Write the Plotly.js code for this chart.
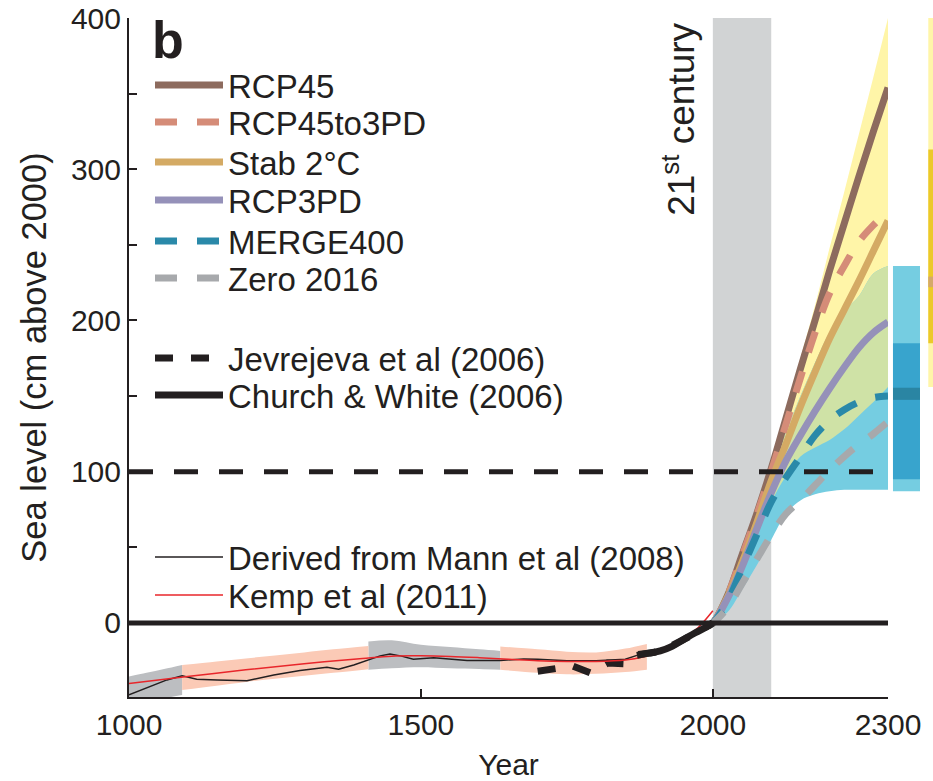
<!DOCTYPE html>
<html>
<head>
<meta charset="utf-8">
<script src="https://cdn.plot.ly/plotly-3.0.1.min.js"></script>
<style>html,body{margin:0;padding:0;background:#fff;}#chart{width:933px;height:781px;}</style>
</head>
<body>
<div id="chart"></div>
<script>
// ---------------- data ----------------
// Historical reconstructions
const mannYears = [1000,1036,1065,1091,1116,1151,1202,1248,1293,1339,1359,1385,1410,1430,1447,1465,1487,1522,1579,1636,1676,1700,1750,1800,1850,1870];
const mannValues = [-47.6,-42.1,-37.7,-35.0,-37.2,-37.7,-38.3,-34.4,-31.5,-29.3,-30.6,-27.8,-24.5,-21.8,-20.5,-21.8,-24.0,-23.1,-24.9,-24.9,-23.8,-24.0,-25.0,-25.0,-24.0,-21.5];

const kempYears = [1000,1100,1200,1300,1400,1450,1500,1550,1600,1650,1700,1750,1800,1850,1880,1900,1925,1950,1975,2000];
const kempValues = [-40,-35.5,-31,-27,-23.5,-22,-21.8,-22.2,-23,-24,-25,-25.5,-25.5,-24.5,-22.5,-20,-16,-10,-3,8];

// uncertainty shading of the reconstructions (segments)
const grayBandAYears = [1000,1030,1060,1091];
const grayBandAUpper = [-35.5,-33,-30.5,-27.8];
const grayBandALower = [-56,-53,-50,-47.6];
const grayBandBYears = [1410,1450,1500,1550,1600,1636];
const grayBandBUpper = [-12.3,-11.5,-14.5,-16,-17.5,-18.5];
const grayBandBLower = [-31,-30,-29.3,-30,-30.5,-31];
const pinkBandAYears = [1091,1150,1200,1250,1300,1350,1410];
const pinkBandAUpper = [-27.8,-25.5,-23.5,-21.5,-19.5,-17.5,-15.2];
const pinkBandALower = [-44.3,-41.5,-39,-37,-35,-33,-30.6];
const pinkBandBYears = [1636,1700,1750,1800,1850,1887];
const pinkBandBUpper = [-15.6,-17.5,-19,-19.5,-17,-13.9];
const pinkBandBLower = [-31,-33,-34,-33.7,-32.5,-31];

const jevYears = [1700,1730,1760,1790,1820,1850,1870,1900,1930,1960,1990,2000];
const jevValues = [-32,-30,-28.5,-33,-26.5,-27,-21,-19.5,-15,-9,-2,0];

const cwYears = [1870,1890,1910,1930,1950,1970,1990,2000];
const cwValues = [-21.5,-20,-18.5,-15.5,-11,-6.5,-2.5,0];

// Projections
const projYears = [1990,2000,2025,2050,2075,2100,2125,2150,2175,2200,2225,2250,2275,2300];
const rcp45 =       [-2,0,18,45,72,102,135,168,200,233,264,295,325,354];
const rcp45to3pd =  [-2,0,18,44,71,100,131,162,192,218,236,252,263,272];
const stab2c =      [-2,0,17,40,66,94,118,143,166,188,207,226,246,266];
const rcp3pd =      [-2,0,16,37,62,86,107,124,140,155,169,182,192,199];
const merge400 =    [-2,0,14,36,58,80,96,110,124,134,141,146,149,150];
const zero2016 =    [-2,0,10,26,42,58,72,81,91,101,110,118,125,133];

// Uncertainty envelopes of the projections
const bandYears   = [2000,2025,2050,2075,2100,2125,2150,2175,2200,2225,2250,2275,2300];
const yellowUpper = [0,20,45,75,108,140,175,210,248,285,323,361,400];
const yellowLower = [0,16,35,58,80,97,110,116,121,128,137,146,156];
const blueUpper   = [0,20,45,72,100,126,150,172,192,206,216,231,236];
const blueLower   = [0,7,22,38,55,72,81,85,87,88,88,88,88];

// Ranges at 2300 (side bars): [low, high]
const barLightLow  = [87,156];
const barLightHigh = [236,400];
const barDarkLow   = [95,185];
const barDarkHigh  = [185,313];
const barMarkLow   = [147.5,222];
const barMarkHigh  = [155.5,229];

// Reference levels
const refYears = [1000,2300];
const refZero = [0,0];
const refHundred = [100,100];
const century = [2000,2100];

const xTicks = [1000,1500,2000,2300];
const yTicks = [0,100,200,300,400];

// ---------------- styling ----------------
const FONT = 'Liberation Sans, Arial, Helvetica, sans-serif';
const INK = '#231f20';
const C = {
  rcp45:'#8d6b5e', rcp45to3pd:'#d58c78', stab:'#d4aa64', rcp3pd:'#9591b9', merge:'#2a89a9', zero:'#a7a9ac',
  yellow:'#fff5a8', cyan:'#75cde1', green:'#cfe2a6', gray:'#bcbec1', pink:'#fbcab6', century:'#d1d3d4',
  barLightB:'#75cde1', barLightY:'#fff5a8', barDarkB:'#38a4cd', barDarkY:'#ecc92a', markB:'#2a85a3', markY:'#d5a96a'
};

const plotL = 129, plotR = 933, plotT = 18, plotB = 697, xEnd = 888;
const plotW = plotR - plotL, plotH = plotB - plotT;
const xDomEnd = (xEnd - plotL) / plotW;
const x2DomStart = (890 - plotL) / plotW;

// legend rows (pixel centre of each swatch)
const legendRowY = [88, 125, 165, 203, 244, 281, 361, 398, 560, 598];
const legendNames = legendRowY.map((_, i) => i === 0 ? 'legend' : 'legend' + (i + 1));

const traces = [];
function band(xs, lo, hi, color) {
  traces.push({x:xs, y:lo, type:'scatter', mode:'lines', line:{width:0, shape:'spline'}, showlegend:false, hoverinfo:'skip'});
  traces.push({x:xs, y:hi, type:'scatter', mode:'lines', line:{width:0, shape:'spline'}, fill:'tonexty', fillcolor:color, showlegend:false, hoverinfo:'skip'});
}
// projection envelopes
band(bandYears, yellowLower, yellowUpper, C.yellow);
band(bandYears, blueLower, blueUpper, C.cyan);
const ovLo = bandYears.map((_, i) => Math.max(yellowLower[i], blueLower[i]));
const ovHi = bandYears.map((_, i) => Math.min(yellowUpper[i], blueUpper[i]));
band(bandYears, ovLo, ovHi, C.green);
// reconstruction envelopes
band(grayBandAYears, grayBandALower, grayBandAUpper, C.gray);
band(grayBandBYears, grayBandBLower, grayBandBUpper, C.gray);
band(pinkBandAYears, pinkBandALower, pinkBandAUpper, C.pink);
band(pinkBandBYears, pinkBandBLower, pinkBandBUpper, C.pink);

let li = 0;
function proj(name, ys, color, dash) {
  traces.push({x:projYears, y:ys, name:name, type:'scatter', mode:'lines',
    line:{color:color, width:7, dash:dash || 'solid', shape:'spline'}, legend:legendNames[li++]});
}
proj('RCP45', rcp45, C.rcp45);
proj('RCP45to3PD', rcp45to3pd, C.rcp45to3pd, '22px,20px');
proj('Stab 2\u00B0C', stab2c, C.stab);
proj('RCP3PD', rcp3pd, C.rcp3pd);
proj('MERGE400', merge400, C.merge, '22px,20px');
proj('Zero 2016', zero2016, C.zero, '22px,20px');

// reconstructions
traces.push({x:jevYears, y:jevValues, name:'Jevrejeva et al (2006)', type:'scatter', mode:'lines',
  line:{color:INK, width:7, dash:'18px,18px'}, legend:legendNames[li++]});
traces.push({x:cwYears, y:cwValues, name:'Church & White (2006)', type:'scatter', mode:'lines',
  line:{color:INK, width:7, shape:'spline'}, legend:legendNames[li++]});
traces.push({x:mannYears, y:mannValues, name:'Derived from Mann et al (2008)', type:'scatter', mode:'lines',
  line:{color:INK, width:1.5}, legend:legendNames[li++]});
traces.push({x:kempYears, y:kempValues, name:'Kemp et al (2011)', type:'scatter', mode:'lines',
  line:{color:'#e8262b', width:1.5, shape:'spline'}, legend:legendNames[li++]});
// keep Church & White drawn above the thin reconstructions
const cwTrace = traces.splice(traces.length - 3, 1)[0];
traces.push(cwTrace);

// reference levels
traces.push({x:refYears, y:refHundred, type:'scatter', mode:'lines', line:{color:INK, width:5, dash:'24px,21px'}, showlegend:false, hoverinfo:'skip'});
traces.push({x:refYears, y:refZero, type:'scatter', mode:'lines', line:{color:INK, width:5}, showlegend:false, hoverinfo:'skip'});

// side bars (ranges in 2300)
const barPos = [0,1];
const barW = 0.765;
function rangeBar(lo, hi, colors) {
  traces.push({type:'bar', x:barPos, base:lo, y:hi.map((h,i)=>h-lo[i]), width:[barW,barW],
    marker:{color:colors, line:{width:0}}, xaxis:'x2', yaxis:'y', showlegend:false, hoverinfo:'skip'});
}
rangeBar(barLightLow, barLightHigh, [C.barLightB, C.barLightY]);
rangeBar(barDarkLow, barDarkHigh, [C.barDarkB, C.barDarkY]);
rangeBar(barMarkLow, barMarkHigh, [C.markB, C.markY]);

const legendFont = 33, legendTopOffset = 31;
const layout = {
  width:933, height:781,
  margin:{l:plotL, r:0, t:plotT, b:781 - plotB, pad:0},
  paper_bgcolor:'#fff', plot_bgcolor:'rgba(0,0,0,0)',
  font:{family:FONT, color:INK, size:30},
  showlegend:true,
  barmode:'overlay',
  xaxis:{domain:[0, xDomEnd], range:[1000,2300], showline:true, linecolor:INK, linewidth:2,
    ticks:'inside', ticklen:8, tickwidth:2, tickcolor:INK, tickvals:xTicks, ticktext:xTicks.map(String),
    tickfont:{family:FONT, size:30, color:INK}, showgrid:false, zeroline:false,
    title:{text:'Year', font:{family:FONT, size:30, color:INK}, standoff:16}},
  xaxis2:{domain:[x2DomStart,1], range:[-0.467,0.751], anchor:'y', visible:false, showgrid:false, zeroline:false},
  yaxis:{range:[-49,400], anchor:'x', showline:true, linecolor:INK, linewidth:2,
    ticks:'inside', ticklen:8, tickwidth:2, tickcolor:INK, tickvals:yTicks, ticktext:yTicks.map(String),
    minor:{ticks:'inside', ticklen:8, tickwidth:2, tickcolor:INK, dtick:50, tick0:0, showgrid:false},
    tickfont:{family:FONT, size:30, color:INK}, showgrid:false, zeroline:false,
    title:{text:'Sea level (cm above 2000)', font:{family:FONT, size:34.5, color:INK}, standoff:14}},
  shapes:[{type:'rect', layer:'below', xref:'x', yref:'paper', x0:century[0], x1:century[1], y0:0, y1:1,
    fillcolor:C.century, line:{width:0}}],
  annotations:[
    {text:'<b>b</b>', xref:'paper', yref:'paper', x:(150-plotL)/plotW, y:1.0, xanchor:'left', yanchor:'top',
      yshift:9, showarrow:false, font:{family:FONT, size:52, color:INK}},
    {text:'21<sup>st</sup> century', xref:'x', yref:'paper', x:century[0], y:1, xanchor:'right', yanchor:'top',
      xshift:-8, yshift:-3, textangle:-90, showarrow:false, font:{family:FONT, size:37, color:INK}}
  ]
};
legendNames.forEach((nm, i) => {
  layout[nm] = {font:{family:FONT, size:legendFont, color:INK}, bgcolor:'rgba(0,0,0,0)', borderwidth:0,
    itemwidth:68, itemclick:false, itemdoubleclick:false, xanchor:'left', yanchor:'top', traceorder:'normal',
    x:(150 - plotL) / plotW, y:(plotB - (legendRowY[i] - legendTopOffset)) / plotH};
});

Plotly.newPlot('chart', traces, layout, {staticPlot:true, displayModeBar:false});
</script>
</body>
</html>
